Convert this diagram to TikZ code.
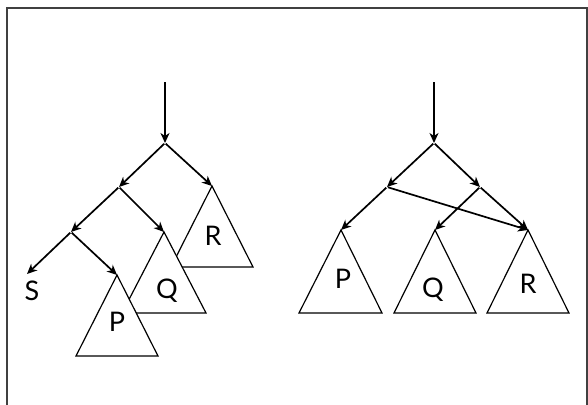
\documentclass[tikz,border=0pt]{standalone}
\usepackage{fontspec}
\setmainfont{Lato}
\usetikzlibrary{arrows.meta}
\begin{document}
\begin{tikzpicture}[x=1pt, y=-1pt,
    edge/.style={-{Stealth[length=10pt, width=9pt, inset=3pt]}, line width=1.7pt, shorten <=1pt},
    subtree/.style={draw, line width=1.2pt, fill=white, line join=miter},
    lbl/.style={font=\fontsize{27}{27}\selectfont, inner sep=0pt, anchor=base}
]
    \useasboundingbox (0,0) rectangle (588,404);
    \draw[line width=1.6pt, black!75] (7,410) -- (7,8) -- (587,8) -- (587,410);

    % left tree
    \coordinate (ltop) at (165,82);
    \coordinate (lroot) at (165,143);
    \coordinate (la) at (119,187);
    \coordinate (lb) at (71,232);
    \coordinate (lR) at (212,186);
    \coordinate (lQ) at (164,232);
    \coordinate (lP) at (117,275);
    \coordinate (lS) at (27,274);

    \draw[subtree] (lR) -- ++(-41,81) -- ++(82,0) -- cycle;
    \node[lbl] (lRl) at (213,245) {R};
    \draw[subtree] (lQ) -- ++(-42,81) -- ++(84,0) -- cycle;
    \node[lbl] (lQl) at (167,298) {Q};
    \draw[subtree] (lP) -- ++(-41,81) -- ++(82,0) -- cycle;
    \node[lbl] (lPl) at (117,331) {P};
    \node[lbl] (lSl) at (32,300) {S};

    \draw[edge, shorten <=0pt] (ltop) -- (lroot);
    \draw[edge] (lroot) -- (la);
    \draw[edge] (lroot) -- (lR);
    \draw[edge] (la) -- (lb);
    \draw[edge] (la) -- (lQ);
    \draw[edge] (lb) -- (lS);
    \draw[edge] (lb) -- (lP);

    % right tree
    \coordinate (rtop) at (434,82);
    \coordinate (rroot) at (434,143);
    \coordinate (ra) at (387,187);
    \coordinate (rb) at (480,187);
    \coordinate (rP) at (341,230);
    \coordinate (rQ) at (435,230);
    \coordinate (rR) at (528,230);

    \draw[subtree] (rP) -- ++(-42,83) -- ++(83,0) -- cycle;
    \node[lbl] (rPl) at (343,288) {P};
    \draw[subtree] (rQ) -- ++(-41,83) -- ++(82,0) -- cycle;
    \node[lbl] (rQl) at (433,297) {Q};
    \draw[subtree] (rR) -- ++(-41,83) -- ++(82,0) -- cycle;
    \node[lbl] (rRl) at (528,293) {R};

    \draw[edge, shorten <=0pt] (rtop) -- (rroot);
    \draw[edge] (rroot) -- (ra);
    \draw[edge] (rroot) -- (rb);
    \draw[edge] (ra) -- (rP);
    \draw[edge] (ra) -- (rR);
    \draw[edge] (rb) -- (rQ);
    \draw[edge] (rb) -- (rR);
\end{tikzpicture}
\end{document}
